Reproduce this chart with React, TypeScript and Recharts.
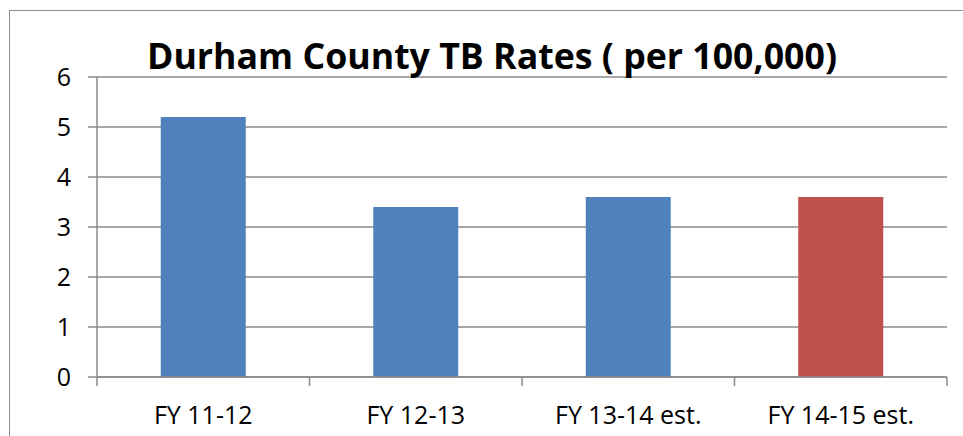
// App.tsx
// ─── Durham County TB rates — simple bar chart ────────────────────

import { BarChart, Bar, Cell, XAxis, YAxis, CartesianGrid } from "recharts";

// ─── Data ─────────────────────────────────────────────────────────
const CATEGORIES = ["FY 11-12", "FY 12-13", "FY 13-14 est.", "FY 14-15 est."];
const RATES = [5.2, 3.4, 3.6, 3.6];
const Y_TICKS = [0, 1, 2, 3, 4, 5, 6];

const BLUE = "#4f81bd";
const RED = "#c0504d";
const BAR_COLORS = [BLUE, BLUE, BLUE, RED];

const GRID = "#8a8a8a";
const FONT = "'Open Sans', sans-serif";
const TICK_SIZE = 9;
const TICK_MARGIN = 20;

const data = CATEGORIES.map((name, i) => ({ name, rate: RATES[i] }));

// ─── Category tick: label + marks on band boundaries ──────────────
function CategoryTick(props: any) {
  const { x, y, payload, index, visibleTicksCount, width } = props;
  const half =
    payload?.offset ?? (visibleTicksCount ? width / visibleTicksCount / 2 : 0);
  const top = y - TICK_MARGIN - TICK_SIZE;
  const bottom = y - TICK_MARGIN;
  const last = index === visibleTicksCount - 1;
  return (
    <g>
      <line x1={x - half} x2={x - half} y1={top} y2={bottom} stroke={GRID} strokeWidth={1.5} />
      {last && (
        <line x1={x + half} x2={x + half} y1={top} y2={bottom} stroke={GRID} strokeWidth={1.5} />
      )}
      <text
        x={x}
        y={y}
        dy="0.71em"
        textAnchor="middle"
        fill="#000"
        fontSize={25}
        fontFamily={FONT}
      >
        {payload.value}
      </text>
    </g>
  );
}

export default function App() {
  return (
    <div style={{ position: "fixed", left: 0, top: 0, width: 963, height: 436, background: "#fff", overflow: "hidden" }}>
      {/* outer frame, right and bottom edges fall outside the picture */}
      <div
        style={{
          position: "absolute",
          left: 9,
          top: 10,
          width: 1000,
          height: 500,
          border: "1.5px solid #8f8f8f",
          boxSizing: "border-box",
        }}
      />
      <BarChart
        width={963}
        height={436}
        data={data}
        margin={{ top: 77, right: 16, left: 0, bottom: 0 }}
        barCategoryGap="30%"
        style={{ position: "absolute", left: 0, top: 0 }}
      >
        <CartesianGrid horizontal vertical={false} stroke={GRID} strokeWidth={1.5} />
        <XAxis
          dataKey="name"
          height={59}
          axisLine={{ stroke: GRID, strokeWidth: 1.5 }}
          tickLine={false}
          tickSize={TICK_SIZE}
          tickMargin={TICK_MARGIN}
          tick={<CategoryTick />}
          interval={0}
        />
        <YAxis
          width={97}
          domain={[0, 6]}
          ticks={Y_TICKS}
          interval={0}
          axisLine={{ stroke: GRID, strokeWidth: 1.5 }}
          tickLine={{ stroke: GRID, strokeWidth: 1.5 }}
          tickSize={9}
          tickMargin={17}
          tick={{ fill: "#000", fontSize: 25, fontFamily: FONT }}
        />
        <Bar dataKey="rate" isAnimationActive={false}>
          {data.map((d, i) => (
            <Cell key={d.name} fill={BAR_COLORS[i]} />
          ))}
        </Bar>
      </BarChart>
      <svg width={963} height={436} style={{ position: "absolute", left: 0, top: 0, pointerEvents: "none" }}>
        <text
          x={147}
          y={69}
          textLength={690}
          lengthAdjust="spacingAndGlyphs"
          fontFamily={FONT}
          fontWeight={700}
          fontSize={35}
          fill="#000"
        >
          Durham County TB Rates ( per 100,000)
        </text>
      </svg>
    </div>
  );
}
